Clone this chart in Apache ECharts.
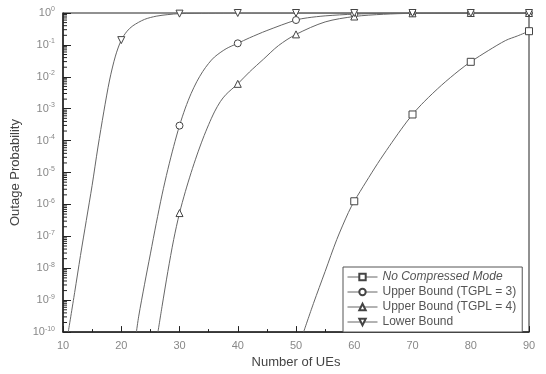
<!DOCTYPE html>
<html><head><meta charset="utf-8">
<script src="https://cdn.jsdelivr.net/npm/echarts@6/dist/echarts.min.js"></script>
<style>html,body{margin:0;padding:0;background:#fff}#c{width:546px;height:374px}</style>
</head><body><div id="c"></div>
<script>
// Series values: x positions and log10(outage probability)
const ncmX   = [51.3, 53, 55, 57, 59, 60, 62, 64, 66, 68, 70, 72, 75, 78, 80, 83, 86, 88, 90];
const ncmLog = [-10, -9.1, -8.1, -7.1, -6.25, -5.9, -5.3, -4.72, -4.18, -3.66, -3.18, -2.78, -2.26, -1.8, -1.53, -1.18, -0.86, -0.72, -0.57];

const ub3X   = [22.6, 23, 24, 25, 26, 27, 28, 29, 30, 31, 32, 33, 34, 35, 36, 38, 40, 42, 45, 50, 52, 55, 60, 65, 70, 80, 90];
const ub3Log = [-10, -9.5, -8.5, -7.55, -6.6, -5.7, -4.9, -4.18, -3.53, -2.98, -2.52, -2.14, -1.83, -1.58, -1.38, -1.12, -0.95, -0.78, -0.55, -0.22, -0.15, -0.09, -0.035, -0.012, 0, 0, 0];

const ub4X   = [26.3, 27, 28, 29, 30, 31, 32, 33, 34, 35, 36, 37, 38, 40, 42, 44.4, 47, 50, 55, 60, 65, 70, 80, 90];
const ub4Log = [-10, -9.2, -8.1, -7.1, -6.27, -5.6, -5.0, -4.45, -3.95, -3.5, -3.1, -2.78, -2.55, -2.22, -1.85, -1.45, -1.02, -0.67, -0.28, -0.11, -0.04, -0.01, 0, 0];

const lbX   = [10.9, 12, 13, 14, 15, 16, 17, 18, 19, 20, 21, 22, 24, 26, 28, 30, 35, 40, 50, 60, 70, 80, 90];
const lbLog = [-10, -8.76, -7.6, -6.5, -5.4, -4.2, -3.1, -2.1, -1.35, -0.85, -0.57, -0.4, -0.2, -0.1, -0.05, -0.02, -0.005, 0, 0, 0, 0, 0, 0];

const seriesNames = ['No Compressed Mode', 'Upper Bound (TGPL = 3)', 'Upper Bound (TGPL = 4)', 'Lower Bound'];
const yDecades = [-10, -9, -8, -7, -6, -5, -4, -3, -2, -1, 0];
const minorMult = [2, 3, 4, 5, 6, 7, 8, 9];

function build(xs, logs) {
  return xs.map((x, i) => {
    const item = { value: [x, Math.pow(10, logs[i])] };
    if (Math.abs(x % 10) > 1e-9) item.symbol = 'none';
    return item;
  });
}

const minorVals = [];
yDecades.slice(0, -1).forEach(d => minorMult.forEach(m => minorVals.push([10, m * Math.pow(10, d)])));

const lineStyle = { color: '#666', width: 1 };
const itemStyle = { color: '#fff', borderColor: '#444', borderWidth: 1 };

function lineSeries(name, xs, logs, symbol, rotate) {
  return {
    name, type: 'line', data: build(xs, logs), smooth: 0.3,
    symbol, symbolSize: 7, symbolRotate: rotate || 0, showAllSymbol: true,
    lineStyle, itemStyle, color: '#555', z: 3
  };
}

const chart = echarts.init(document.getElementById('c'), null, { renderer: 'canvas' });
chart.setOption({
  animation: false,
  backgroundColor: '#fff',
  grid: { left: 63, right: 17, top: 13, bottom: 32, show: true, borderColor: '#222', borderWidth: 1, backgroundColor: 'transparent' },
  xAxis: {
    type: 'value', min: 10, max: 90, interval: 10,
    name: 'Number of UEs', nameLocation: 'middle', nameGap: 15,
    nameTextStyle: { fontFamily: 'Liberation Sans', fontSize: 13, color: '#444' },
    axisLine: { show: true, lineStyle: { color: '#222', width: 1.5 } },
    axisTick: { show: true, inside: true, length: 6, lineStyle: { color: '#222' } },
    minorTick: { show: true, splitNumber: 2, length: 3, lineStyle: { color: '#222' } },
    axisLabel: { fontFamily: 'Liberation Sans', fontSize: 11, color: '#888', margin: 8 },
    splitLine: { show: false }
  },
  yAxis: {
    type: 'log', logBase: 10, min: 1e-10, max: 1, interval: 1,
    name: 'Outage Probability', nameLocation: 'middle', nameGap: 33,
    nameTextStyle: { fontFamily: 'Liberation Sans', fontSize: 13, color: '#444' },
    axisLine: { show: true, lineStyle: { color: '#222', width: 1.5 } },
    axisTick: { show: true, inside: true, length: 8, lineStyle: { color: '#222' } },
    axisLabel: {
      margin: 8,
      formatter: v => '{b|10}{s|' + Math.round(Math.log10(v)) + '}',
      rich: {
        b: { fontFamily: 'Liberation Sans', fontSize: 11, color: '#888' },
        s: { fontFamily: 'Liberation Sans', fontSize: 7, color: '#888', padding: [0, 0, 7, 0] }
      }
    },
    splitLine: { show: false }
  },
  legend: {
    data: seriesNames, orient: 'vertical', left: 343, top: 267,
    backgroundColor: '#fff', borderColor: '#555', borderWidth: 1, borderRadius: 0,
    padding: [4, 6, 4, 4], itemGap: 3, itemWidth: 30, itemHeight: 8,
    lineStyle: { width: 1 },
    textStyle: { fontFamily: 'Liberation Sans', fontSize: 12, color: '#555', rich: { i: { fontStyle: 'italic', fontFamily: 'Liberation Sans', fontSize: 12, color: '#555' } } },
    formatter: n => n === seriesNames[0] ? '{i|' + n + '}' : n
  },
  series: [
    lineSeries(seriesNames[0], ncmX, ncmLog, 'rect'),
    lineSeries(seriesNames[1], ub3X, ub3Log, 'circle'),
    lineSeries(seriesNames[2], ub4X, ub4Log, 'triangle'),
    lineSeries(seriesNames[3], lbX, lbLog, 'triangle', 180),
    {
      type: 'custom', name: 'minor', data: minorVals, silent: true, z: 4,
      renderItem: (params, api) => {
        const p = api.coord([api.value(0), api.value(1)]);
        return { type: 'line', shape: { x1: p[0], y1: p[1], x2: p[0] + 4, y2: p[1] }, style: { stroke: '#222', lineWidth: 1 } };
      }
    }
  ]
});
</script></body></html>
